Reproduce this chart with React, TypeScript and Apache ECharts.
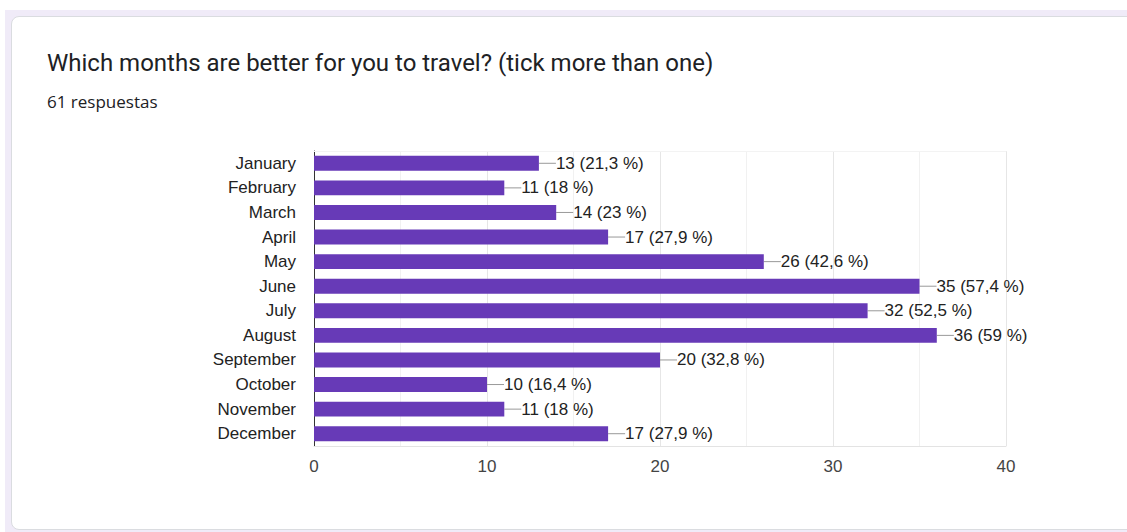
import React, { useEffect, useRef } from "react";
import * as echarts from "echarts";

const months = [
  "January", "February", "March", "April", "May", "June",
  "July", "August", "September", "October", "November", "December",
];
const counts = [13, 11, 14, 17, 26, 35, 32, 36, 20, 10, 11, 17];
const percents = ["21,3 %", "18 %", "23 %", "27,9 %", "42,6 %", "57,4 %", "52,5 %", "59 %", "32,8 %", "16,4 %", "18 %", "27,9 %"];
const xTicks = [0, 10, 20, 30, 40];
const titleText = "Which months are better for you to travel? (tick more than one)";
const subtitleText = "61 respuestas";

export default function App() {
  const ref = useRef<HTMLDivElement>(null);
  useEffect(() => {
    if (!ref.current) return;
    const chart = echarts.init(ref.current, undefined, { renderer: "svg" });
    chart.setOption({
      animation: false,
      title: [
        {
          text: titleText,
          left: 47,
          top: 51,
          padding: 0,
          textStyle: { fontFamily: "Roboto", fontSize: 24, fontWeight: "normal", color: "#202124" },
        },
        {
          text: subtitleText,
          left: 47,
          top: 93,
          padding: 0,
          textStyle: { fontFamily: "Open Sans", fontSize: 17, fontWeight: "normal", color: "#202124" },
        },
      ],
      grid: { left: 314, right: 121, top: 151, bottom: 86 },
      xAxis: [
        {
          type: "value",
          min: xTicks[0],
          max: xTicks[xTicks.length - 1],
          interval: 10,
          axisLine: { show: true, onZero: false, lineStyle: { color: "#e3e3e3", width: 1 } },
          axisTick: { show: false },
          axisLabel: { fontFamily: "Liberation Sans", fontSize: 17, color: "#444", margin: 12 },
          splitLine: { show: true, lineStyle: { color: "#e6e6e6", width: 1 } },
          minorTick: { show: false, splitNumber: 2 },
          minorSplitLine: { show: true, lineStyle: { color: "#f1f1f1", width: 1 } },
        },
        {
          type: "value",
          position: "top",
          min: xTicks[0],
          max: xTicks[xTicks.length - 1],
          interval: 10,
          axisLine: { show: true, onZero: false, lineStyle: { color: "#f3f3f3", width: 1 } },
          axisTick: { show: false },
          axisLabel: { show: false },
          splitLine: { show: false },
        },
      ],
      yAxis: {
        type: "category",
        data: months,
        inverse: true,
        axisLine: { show: true, lineStyle: { color: "#333", width: 1 } },
        axisTick: { show: false },
        axisLabel: { fontFamily: "Liberation Sans", fontSize: 17, color: "#222", margin: 18 },
        splitLine: { show: false },
      },
      series: [
        {
          type: "bar",
          data: counts,
          xAxisIndex: 0,
          barWidth: "61%",
          itemStyle: { color: "#673ab7" },
          label: {
            show: true,
            position: "right",
            distance: 0,
            fontFamily: "Liberation Sans",
            fontSize: 17,
            color: "#222",
            formatter: (p: any) => `${counts[p.dataIndex]} (${percents[p.dataIndex]})`,
          },
          labelLayout: { dx: 17 },
          labelLine: { show: true, lineStyle: { color: "#999", width: 1 } },
        },
      ],
    });
    return () => chart.dispose();
  }, []);

  return (
    <div style={{ position: "fixed", left: 0, top: 0, width: 1127, height: 532, background: "#fff", overflow: "hidden" }}>
      <div style={{ position: "absolute", left: 5, top: 10, right: 0, bottom: 0, background: "#f0ebf8" }} />
      <div
        style={{
          position: "absolute",
          left: 11,
          top: 16,
          width: 1130,
          height: 514,
          background: "#fff",
          border: "1px solid #dadce0",
          borderRadius: 8,
          boxSizing: "border-box",
        }}
      />
      <div ref={ref} style={{ position: "absolute", left: 0, top: 0, width: 1127, height: 532 }} />
    </div>
  );
}
